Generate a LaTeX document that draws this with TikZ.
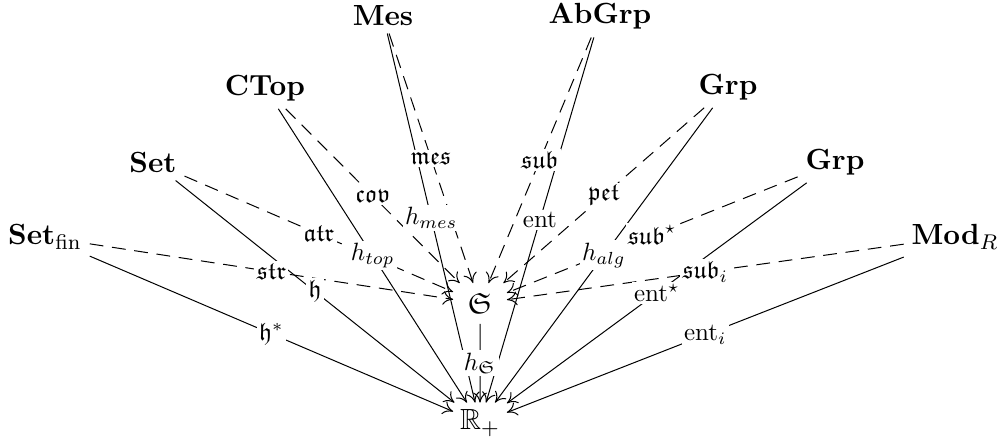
\documentclass[tikz,border=0pt]{standalone}
\usepackage{amssymb}
\usetikzlibrary{arrows.meta}
\tikzset{
  cat/.style={inner sep=2.8pt, font=\fontsize{10.95}{13}\selectfont, scale=1.065, transform shape},
  hub/.style={minimum width=19.8pt, minimum height=14.9pt, inner sep=0pt, font=\fontsize{10.95}{13}\selectfont, scale=1.065, transform shape},
  lab/.style={fill=white, inner sep=1pt, font=\fontsize{10}{12}\selectfont},
  dl/.style={line width=0.4pt, dash pattern=on 5.5pt off 3.5pt, -{To[length=4pt,width=5.5pt]}},
  sl/.style={line width=0.4pt, -{To[length=4pt,width=5.5pt]}},
}
\begin{document}
\begin{tikzpicture}[x=0.4pt,y=-0.4pt]
\useasboundingbox (0,0) rectangle (1000,441);
% nodes
\node[cat] (setfin) at (45,237) {$\mathbf{Set}_{\mathrm{fin}}$};
\node[cat] (set) at (153,162.5) {$\mathbf{Set}$};
\node[cat] (ctop) at (265,88) {$\mathbf{CTop}$};
\node[cat] (mes) at (383,15.5) {$\mathbf{Mes}$};
\node[cat] (abgrp) at (600,16.5) {$\mathbf{AbGrp}$};
\node[cat] (grpa) at (728,87) {$\mathbf{Grp}$};
\node[cat] (grpb) at (835,162) {$\mathbf{Grp}$};
\node[cat] (modr) at (955,237) {$\mathbf{Mod}_R$};
\node[hub] (S) at (480,303.5) {$\mathfrak{S}$};
\node[hub] (R) at (480,423) {$\mathbb{R}_+$};
% connectors
\draw[dl] (setfin) -- (S);
\draw[sl] (setfin) -- (R);
\draw[dl] (set) -- (S);
\draw[sl] (set) -- (R);
\draw[dl] (ctop) -- (S);
\draw[sl] (ctop) -- (R);
\draw[dl] (mes) -- (S);
\draw[sl] (mes) -- (R);
\draw[dl] (abgrp) -- (S);
\draw[sl] (abgrp) -- (R);
\draw[dl] (grpa) -- (S);
\draw[sl] (grpa) -- (R);
\draw[dl] (grpb) -- (S);
\draw[sl] (grpb) -- (R);
\draw[dl] (modr) -- (S);
\draw[sl] (modr) -- (R);
\draw[sl] (S) -- (R);
% labels
\path (setfin) -- node[lab] {$\mathfrak{str}$} (S);
\path (setfin) -- node[lab] {$\mathfrak{h}^*$} (R);
\path (set) -- node[lab] {$\mathfrak{atr}$} (S);
\path (set) -- node[lab] {$\mathfrak{h}$} (R);
\path (ctop) -- node[lab] {$\mathfrak{cov}$} (S);
\path (ctop) -- node[lab] {$h_{top}$} (R);
\path (mes) -- node[lab] {$\mathfrak{mes}$} (S);
\path (mes) -- node[lab] {$h_{mes}$} (R);
\path (abgrp) -- node[lab] {$\mathfrak{sub}$} (S);
\path (abgrp) -- node[lab] {$\mathrm{ent}$} (R);
\path (grpa) -- node[lab] {$\mathfrak{pet}$} (S);
\path (grpa) -- node[lab] {$h_{alg}$} (R);
\path (grpb) -- node[lab] {$\mathfrak{sub}^\star$} (S);
\path (grpb) -- node[lab] {$\mathrm{ent}^\star$} (R);
\path (modr) -- node[lab] {$\mathfrak{sub}_i$} (S);
\path (modr) -- node[lab] {$\mathrm{ent}_i$} (R);
\path (S) -- node[lab] {$h_{\mathfrak{S}}$} (R);
\end{tikzpicture}
\end{document}
